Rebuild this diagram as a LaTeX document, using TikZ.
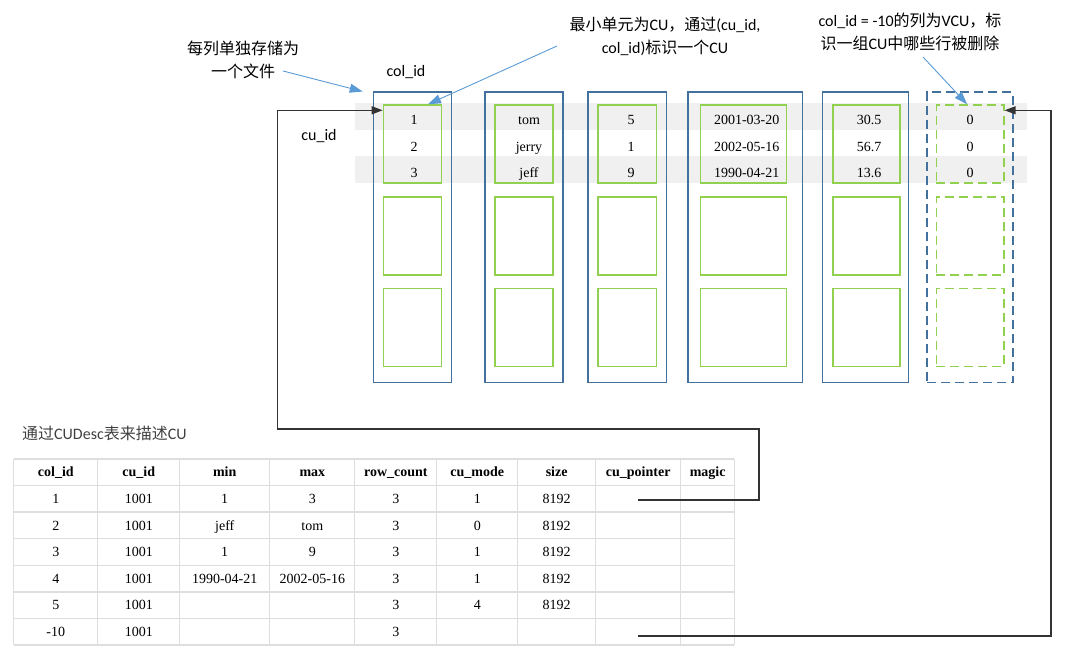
\documentclass[tikz,border=0pt]{standalone}
\usepackage{fontspec}
\setmainfont{Liberation Serif}
\newfontfamily\zhfont{Noto Sans CJK SC}
\newfontfamily\lafont{Carlito}
\newcommand{\zh}[1]{{\zhfont #1}}
\usetikzlibrary{matrix,arrows.meta}
\definecolor{fileblue}{HTML}{41719C}
\definecolor{cugreen}{HTML}{92D050}
\definecolor{noteblue}{HTML}{5B9BD5}
\definecolor{bandgray}{HTML}{F0F0F0}
\definecolor{gridgray}{HTML}{DEDEDE}
\definecolor{linkgray}{HTML}{333333}
\begin{document}
\begin{tikzpicture}[x=1pt, y=-1pt, inner sep=0pt,
  val/.style={font=\fontsize{14}{16}\selectfont, anchor=base},
  note/.style={font=\lafont\fontsize{16}{23}\selectfont, align=center},
  filebox/.style={draw=fileblue, line width=1.6pt, minimum height=290, anchor=north west},
  cubox/.style={draw=cugreen, line width=1.3pt, minimum height=78, anchor=north west},
  vbox/.style={dash pattern=on 9pt off 5pt},
  grid/.style={draw=gridgray, line width=1.3pt},
  hint/.style={draw=noteblue, line width=0.9pt, -{Triangle[length=13pt,width=9pt]}},
  link/.style={draw=linkgray, line width=1.3pt, -{Triangle[length=11pt,width=8pt]}}]
\useasboundingbox (0,0) rectangle (1080,655);
\fill[bandgray] (355,102.7) rectangle (1027,130);
\fill[bandgray] (355,156) rectangle (1027,182.7);

\foreach \i/\bl/\bw/\gl/\gw in {1/372.7/78/382.7/58, 2/484.3/78/494.3/58, 3/587.3/78.4/597.3/58.4, 4/687.3/114.4/700/86, 5/821.7/86/832.3/67}{
  \node[filebox, minimum width=\bw] (col\i) at (\bl,91.5) {};
  \foreach \j/\t in {1/104.3, 2/196.3, 3/287.7}
    \node[cubox, minimum width=\gw] (cu\i-\j) at (\gl,\t) {};
}
\node[filebox, vbox, minimum width=86.3] (col6) at (926,91.5) {};
\foreach \j/\t in {1/104.3, 2/196.3, 3/287.7}
  \node[cubox, vbox, minimum width=67.6] (cu6-\j) at (935.7,\t) {};

\foreach \x/\a/\b/\c [count=\i] in {414/1/2/3, 529/tom/jerry/jeff, 631/5/1/9, 746.7/2001-03-20/2002-05-16/1990-04-21, 869/30.5/56.7/13.6, 970/0/0/0}{
  \node[val] (v\i-1) at (\x,125) {\a};
  \node[val] (v\i-2) at (\x,151.7) {\b};
  \node[val] (v\i-3) at (\x,178) {\c};
}

\node[note] (colid) at (406,72) {col\_id};
\node[note] (cuid) at (319,136) {cu\_id};
\node[note] (note1) at (243,60) {\zh{每列单独存储为}\\\zh{一个文件}};
\node[note] (note2) at (665,36.5) {\zh{最小单元为}CU\zh{，通过}(cu\_id,\\col\_id)\zh{标识一个}CU};
\node[note] (note3) at (910,31.5) {col\_id = -10\zh{的列为}VCU\zh{，标}\\\zh{识一组}CU\zh{中哪些行被删除}};
\node[note, anchor=west, text=black!75] (caption) at (22,433) {\zh{通过}CUDesc\zh{表来描述}CU};

\coordinate (h1) at (283,71);
\coordinate (h2) at (557,46);
\coordinate (h3) at (923,57);
\draw[hint] (h1) -- ([xshift=-10pt]col1.north west);
\draw[hint] (h2) -- ([xshift=-14pt]cu1-1.north east);
\draw[hint] (h3) -- ([xshift=-3pt]cu6-1.north);

\foreach \x in {13.5,97.7,179.5,269.6,354.7,436.6,517.6,595.3,680.7,734.3}
  \draw[grid] (\x,459) -- (\x,645);
\foreach \r in {0,...,7}
  \draw[grid] (13.5,459+26.57*\r) -- (734.3,459+26.57*\r);

\matrix[matrix of nodes, nodes in empty cells, anchor=north west, row sep=0pt, column sep=0pt,
  nodes={outer sep=0pt, minimum height=26.57, text height=9.5pt, text depth=2.5pt, font=\fontsize{14}{16}\selectfont},
  row 1/.style={nodes={font=\bfseries\fontsize{14}{16}\selectfont}},
  column 1/.style={nodes={minimum width=84.2}},
  column 2/.style={nodes={minimum width=81.8}},
  column 3/.style={nodes={minimum width=90.1}},
  column 4/.style={nodes={minimum width=85.1}},
  column 5/.style={nodes={minimum width=81.9}},
  column 6/.style={nodes={minimum width=81}},
  column 7/.style={nodes={minimum width=77.7}},
  column 8/.style={nodes={minimum width=85.4}},
  column 9/.style={nodes={minimum width=53.6}}] (desc) at (13.5,460) {
col\_id & cu\_id & min & max & row\_count & cu\_mode & size & cu\_pointer & magic \\
1 & 1001 & 1 & 3 & 3 & 1 & 8192 & & \\
2 & 1001 & jeff & tom & 3 & 0 & 8192 & & \\
3 & 1001 & 1 & 9 & 3 & 1 & 8192 & & \\
4 & 1001 & 1990-04-21 & 2002-05-16 & 3 & 1 & 8192 & & \\
5 & 1001 & & & 3 & 4 & 8192 & & \\
-10 & 1001 & & & 3 & & & & \\
};

\draw[link] (desc-2-8.center) -| (759,429) -- (277.7,429) |- ([yshift=-6pt]cu1-1.north west);
\draw[link] ([yshift=-3pt]desc-7-8.center) -| (1051,110.3) -- ([yshift=-6pt]cu6-1.north east);
\end{tikzpicture}
\end{document}
